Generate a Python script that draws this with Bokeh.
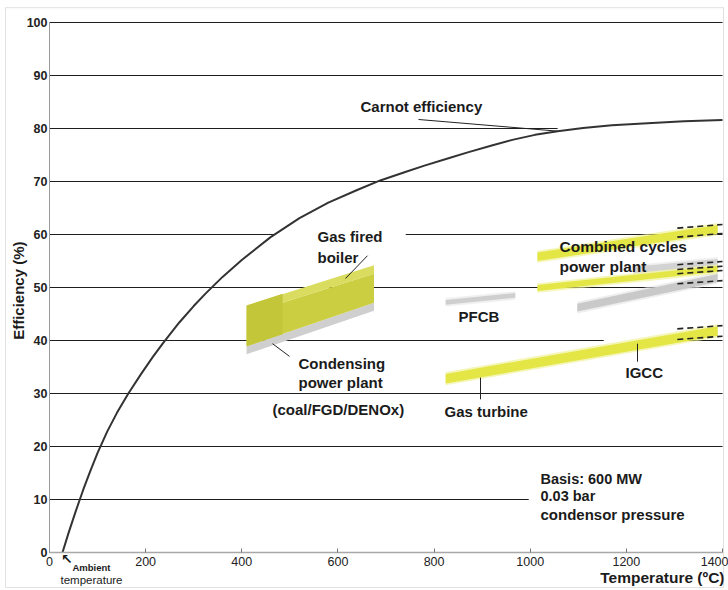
import numpy as np
from bokeh.plotting import figure
from bokeh.models import Range1d, Label, FixedTicker, BoxAnnotation
from bokeh.embed import file_html
from bokeh.resources import INLINE

# ---------------- data ----------------
x_ticks = [0, 200, 400, 600, 800, 1000, 1200, 1400]
y_ticks = [0, 10, 20, 30, 40, 50, 60, 70, 80, 90, 100]

# horizontal rules of the chart: level, start, end (gaps where the original leaves them open)
grid_level = [100, 90, 80, 70, 60, 60, 50, 40, 40, 30, 20, 10]
grid_from = [0, 0, 0, 0, 0, 741, 0, 0, 1275, 0, 0, 0]
grid_to = [1400, 1400, 1057, 1400, 470, 1400, 1400, 1153, 1400, 1400, 1400, 997]

carnot_T = [27, 40, 55, 70, 85, 100, 120, 140, 164, 190, 215, 237, 270, 300, 324,
            360, 400, 460, 520, 580, 640, 688, 740, 780, 830, 870, 920, 965, 1010,
            1057, 1110, 1170, 1244, 1320, 1400]
carnot_eff = [0, 3.8, 7.9, 11.8, 15.4, 18.8, 22.8, 26.3, 30.0, 33.6, 36.9, 39.6, 43.4,
              46.5, 48.8, 52.0, 55.2, 59.5, 63.1, 66.0, 68.4, 70.2, 71.8, 73.0, 74.4,
              75.5, 76.8, 77.9, 78.8, 79.5, 80.1, 80.6, 81.0, 81.35, 81.6]

# gas fired boiler / condensing power plant block
boiler_T = [410, 675]
condensing_lo = [37.4, 45.6]
boiler_front_lo = [38.9, 47.1]
boiler_front_hi = [45.0, 52.6]
boiler_top_hi = [46.6, 54.2]
boiler_side_T = [410, 485]
boiler_side_lo = [38.9, 41.2]
boiler_side_hi = [46.6, 48.8]

# PFCB (two grey strokes)
pfcb1_T = [824, 969]
pfcb1_mid = [47.2, 48.5]
pfcb2_T = [1098, 1390]
pfcb2_mid = [46.2, 51.8]

# combined cycles power plant
cc_up_T = [1015, 1390]
cc_up_mid = [55.8, 61.0]
cc_lo_T = [1015, 1390]
cc_lo_mid = [49.9, 53.5]
cc_grey_T = [1215, 1390]
cc_grey_mid = [53.3, 54.8]

# gas turbine / IGCC
gt_T = [824, 1390]
gt_mid = [32.8, 41.8]

# dashed extensions at the right end
dash_T = [1306, 1400]
dash_rows = [[61.2, 61.9], [59.5, 60.2],
             [54.3, 54.9], [53.4, 54.0], [52.6, 53.2], [50.7, 51.3],
             [42.2, 42.8], [40.2, 40.8]]

# leader lines  (x0, y0, x1, y1)
leaders = [
    [767.6, 81.7, 1057.0, 79.5],    # Carnot efficiency
    [661.5, 56.0, 615.8, 51.7],     # Gas fired boiler
    [463.9, 39.4, 499.3, 37.0],     # Condensing power plant
    [896.6, 33.0, 896.6, 28.9],     # Gas turbine
    [1223.2, 39.4, 1223.2, 36.0],   # IGCC
]

# ---------------- layout: the frame covers the whole picture ----------------
W, H = 728, 590
AX_LEFT_PX, AX_BOTTOM_PX = 49, 552
T_PER_PX = 1400 / 673
E_PER_PX = 1 / 5.3
x_lo = -AX_LEFT_PX * T_PER_PX
x_hi = (W - AX_LEFT_PX) * T_PER_PX
y_lo = -(H - AX_BOTTOM_PX) * E_PER_PX
y_hi = AX_BOTTOM_PX * E_PER_PX

FONT = "Liberation Sans"
INK = "#1b1b1b"
YEL = "#e3e645"
YEL_HALO = "#eef08e"
GREY = "#c9c9c9"

p = figure(width=W, height=H, x_range=Range1d(x_lo, x_hi), y_range=Range1d(y_lo, y_hi),
           output_backend="svg", toolbar_location=None,
           min_border_left=0, min_border_right=0, min_border_top=0, min_border_bottom=0)
p.background_fill_color = "white"
p.border_fill_color = "white"
p.outline_line_color = None
p.xgrid.grid_line_color = None
p.ygrid.grid_line_color = None

# axes placed at the data origin
p.xaxis.fixed_location = 0
p.yaxis.fixed_location = 0
p.xaxis.bounds = (0, 1400)
p.yaxis.bounds = (0, 100)
p.xaxis.ticker = FixedTicker(ticks=x_ticks)
p.yaxis.ticker = FixedTicker(ticks=y_ticks)

p.xaxis.axis_line_color = "#a8a8a8"
p.xaxis.axis_line_width = 1.5
p.xaxis.major_tick_in = 4
p.xaxis.major_tick_out = 0
p.xaxis.minor_tick_line_color = None
p.xaxis.major_tick_line_color = "#777777"
p.xaxis.major_label_text_font = FONT
p.xaxis.major_label_text_font_size = "12.5px"
p.xaxis.major_label_text_color = "#222222"
p.xaxis.major_label_standoff = 4

p.yaxis.axis_line_color = "#9a9a9a"
p.yaxis.axis_line_width = 1
p.yaxis.major_tick_in = 0
p.yaxis.major_tick_out = 0
p.yaxis.minor_tick_line_color = None
p.yaxis.major_label_text_font = FONT
p.yaxis.major_label_text_font_style = "bold"
p.yaxis.major_label_text_font_size = "12.5px"
p.yaxis.major_label_text_color = "#222222"
p.yaxis.major_label_standoff = 2

# horizontal rules
p.segment(x0=grid_from, y0=grid_level, x1=grid_to, y1=grid_level,
          line_color="#1e1e1e", line_width=1)


def band(T, lo, hi, color, halo=None, pad=0.35):
    if halo is not None:
        p.varea(x=T, y1=[v - pad for v in lo], y2=[v + pad for v in hi],
                fill_color=halo, fill_alpha=0.6)
    p.varea(x=T, y1=lo, y2=hi, fill_color=color)


def stroke(T, mid, half, color, halo=None):
    band(T, [m - half for m in mid], [m + half for m in mid], color, halo)


# boiler block
band(boiler_T, condensing_lo, boiler_front_lo, "#cfcfcf")
band(boiler_T, boiler_front_lo, boiler_front_hi, "#cbce40")
band(boiler_T, boiler_front_hi, boiler_top_hi, "#d9dc5e")
band(boiler_side_T, boiler_side_lo, boiler_side_hi, "#c3c639")

# PFCB
stroke(pfcb1_T, pfcb1_mid, 0.45, "#cfcfcf", "#e6e6e6")
stroke(pfcb2_T, pfcb2_mid, 0.75, GREY, "#e2e2e2")

# combined cycles
stroke(cc_grey_T, cc_grey_mid, 0.6, "#d3d3d3", "#e6e6e6")
stroke(cc_lo_T, cc_lo_mid, 0.55, YEL, YEL_HALO)
stroke(cc_up_T, cc_up_mid, 0.8, YEL, YEL_HALO)

# gas turbine / IGCC
stroke(gt_T, gt_mid, 0.9, YEL, YEL_HALO)

# dashed extensions
p.multi_line(xs=[dash_T] * len(dash_rows), ys=dash_rows,
             line_color="#222222", line_width=1.6, line_dash="6 4")

# Carnot curve
p.line(carnot_T, carnot_eff, line_color="#333333", line_width=2, line_join="round")

# leaders
p.segment(x0=[l[0] for l in leaders], y0=[l[1] for l in leaders],
          x1=[l[2] for l in leaders], y1=[l[3] for l in leaders],
          line_color="#222222", line_width=1)


def lab(text, x, y, size="15px", bold=True, align="left", angle=0, font=FONT, color=INK):
    p.add_layout(Label(x=x, y=y, text=text, text_font=font, text_font_size=size,
                       text_font_style="bold" if bold else "normal", text_color=color,
                       text_align=align, text_baseline="middle", angle=angle))


lab("Carnot efficiency", 647.0, 84.15)
lab("Gas fired", 557.5, 59.6)
lab("boiler", 557.5, 55.7)
lab("Condensing", 518.0, 35.66)
lab("power plant", 518.0, 32.1)
lab("(coal/FGD/DENOx)", 463.9, 27.0)
lab("PFCB", 850.8, 44.5)
lab("Combined cycles", 1060.9, 57.7, size="15.5px")
lab("power plant", 1060.9, 54.0, size="15.5px")
lab("IGCC", 1198.2, 34.0)
lab("Gas turbine", 821.7, 26.6)
lab("Basis: 600 MW", 1021.4, 13.96, size="14.5px")
lab("0.03 bar", 1021.4, 10.57, size="14.5px")
lab("condensor pressure", 1021.4, 7.17)

lab("Temperature (ºC)", 1404.2, -4.72, size="15.5px", align="right")
lab("Efficiency (%)", -64.5, 49.4, size="15px", align="center", angle=np.pi / 2)
lab("↖", 24.0, -1.2, size="14px", font="DejaVu Sans", bold=True)
lab("Ambient", 47.8, -2.83, size="9.5px")
lab("temperature", 22.9, -5.28, size="11.5px", bold=False)

# thin frame around the whole picture
p.add_layout(BoxAnnotation(left=-91.5, right=1402.1, bottom=-6.6, top=102.8,
                           fill_color=None, line_color="#9a9a9a", line_width=1))

open("out.html", "w").write(file_html(p, INLINE))
